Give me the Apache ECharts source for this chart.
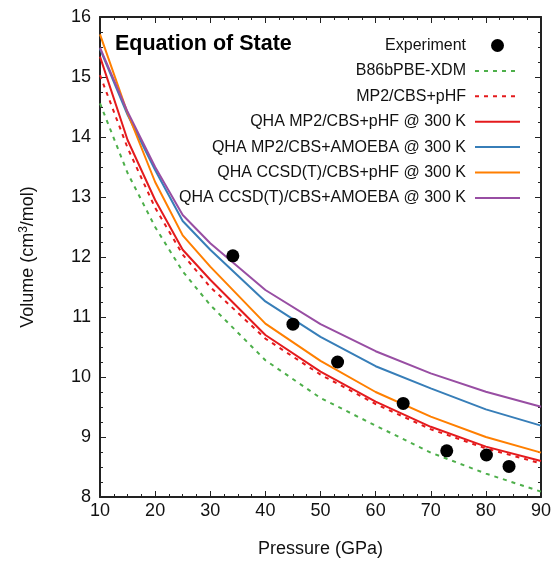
<!DOCTYPE html>
<html>
<head>
<meta charset="utf-8">
<script src="https://cdn.jsdelivr.net/npm/echarts@6/dist/echarts.min.js"></script>
<style>html,body{margin:0;padding:0;background:#fff;}#c{width:559px;height:562px;}</style>
</head>
<body>
<div id="c"></div>
<script>
const pressures = [10, 15, 20, 25, 30, 40, 50, 60, 70, 80, 90];
const expP = [34.1, 45.0, 53.1, 65.0, 72.9, 80.1, 84.2];
const expV = [12.02, 10.88, 10.25, 9.56, 8.77, 8.70, 8.51];
const b86V = [14.56, 13.40, 12.50, 11.76, 11.20, 10.28, 9.65, 9.19, 8.74, 8.39, 8.09];
const mp2V = [15.03, 13.82, 12.82, 12.04, 11.50, 10.64, 10.04, 9.55, 9.13, 8.81, 8.56];
const qhaMp2PhfV = [15.34, 13.95, 12.95, 12.12, 11.62, 10.70, 10.09, 9.59, 9.17, 8.84, 8.60];
const qhaMp2AmoebaV = [15.47, 14.37, 13.45, 12.60, 12.12, 11.26, 10.67, 10.18, 9.81, 9.46, 9.19];
const qhaCcsdPhfV = [15.71, 14.40, 13.25, 12.36, 11.84, 10.89, 10.27, 9.75, 9.34, 9.00, 8.74];
const qhaCcsdAmoebaV = [15.49, 14.42, 13.50, 12.70, 12.23, 11.45, 10.88, 10.43, 10.06, 9.755, 9.505];
const xTicks = [10, 20, 30, 40, 50, 60, 70, 80, 90];
const yTicks = [8, 9, 10, 11, 12, 13, 14, 15, 16];

const names = ['Experiment', 'B86bPBE-XDM', 'MP2/CBS+pHF', 'QHA MP2/CBS+pHF @ 300 K',
  'QHA MP2/CBS+AMOEBA @ 300 K', 'QHA CCSD(T)/CBS+pHF @ 300 K', 'QHA CCSD(T)/CBS+AMOEBA @ 300 K'];

function pairs(xs, ys) { return xs.map((x, i) => [x, ys[i]]); }

const font = 'Liberation Sans, Arial, Helvetica, sans-serif';
const axisColor = '#222';

function lineSeries(name, vals, color, dashed) {
  return {
    name: name, type: 'line', data: pairs(pressures, vals),
    showSymbol: false, symbol: 'none', smooth: false,
    lineStyle: { color: color, width: 2, type: dashed ? [4, 5] : 'solid' },
    itemStyle: { color: color },
    emphasis: { disabled: true }, animation: false, z: 3
  };
}

const chart = echarts.init(document.getElementById('c'));
const xBase = {
  type: 'value', min: xTicks[0], max: xTicks[xTicks.length - 1], interval: 10,
  splitLine: { show: false },
  axisLine: { show: true, onZero: false, lineStyle: { color: axisColor, width: 2 } },
  axisTick: { show: true, inside: true, length: 6, lineStyle: { color: axisColor, width: 1 } },
  minorTick: { show: true, splitNumber: 4, length: 3, lineStyle: { color: axisColor, width: 1 } }
};
const yBase = {
  type: 'value', min: yTicks[0], max: yTicks[yTicks.length - 1], interval: 1,
  splitLine: { show: false },
  axisLine: { show: true, onZero: false, lineStyle: { color: axisColor, width: 2 } },
  axisTick: { show: true, inside: true, length: 6, lineStyle: { color: axisColor, width: 1 } },
  minorTick: { show: true, splitNumber: 4, length: 3, lineStyle: { color: axisColor, width: 1 } }
};

const legendData = names.map((n, i) => i === 0 ? { name: n } : { name: n, itemStyle: { opacity: 0 } });

chart.setOption({
  animation: false,
  backgroundColor: '#fff',
  grid: { left: 100, right: 18, top: 17, bottom: 65, containLabel: false, outerBoundsMode: 'none' },
  title: {
    text: 'Equation of State', left: 110, top: 28,
    textStyle: { fontFamily: font, fontSize: 21.5, fontWeight: 'bold', color: '#000' }
  },
  legend: {
    orient: 'vertical', right: 38, top: 37.5, padding: 0,
    align: 'right', itemWidth: 45, itemHeight: 13, itemGap: 9.4,
    data: legendData,
    textStyle: { fontFamily: font, fontSize: 16, color: '#111', padding: [0, 4, 0, 0] },
    selectedMode: false
  },
  xAxis: [
    Object.assign({}, xBase, {
      position: 'bottom',
      name: 'Pressure (GPa)', nameLocation: 'middle', nameGap: 43,
      nameTextStyle: { fontFamily: font, fontSize: 18, color: '#111' },
      axisLabel: { show: true, margin: 5, fontFamily: font, fontSize: 18, color: '#111' }
    }),
    Object.assign({}, xBase, { position: 'top', axisLabel: { show: false } })
  ],
  yAxis: [
    Object.assign({}, yBase, {
      position: 'left',
      name: 'Volume (cm{sup|3}/mol)', nameLocation: 'middle', nameGap: 62,
      nameTextStyle: {
        fontFamily: font, fontSize: 18, color: '#111', lineHeight: 20,
        rich: { sup: { fontFamily: font, fontSize: 12, color: '#111', verticalAlign: 'top', lineHeight: 20, padding: [0, 0, 6, 0] } }
      },
      axisLabel: { show: true, margin: 9, fontFamily: font, fontSize: 18, color: '#111' }
    }),
    Object.assign({}, yBase, { position: 'right', axisLabel: { show: false } })
  ],
  series: [
    {
      name: names[0], type: 'scatter', data: pairs(expP, expV),
      symbol: 'circle', symbolSize: 13, itemStyle: { color: '#000', opacity: 1 },
      emphasis: { disabled: true }, z: 5
    },
    lineSeries(names[1], b86V, '#4daf4a', true),
    lineSeries(names[2], mp2V, '#e41a1c', true),
    lineSeries(names[3], qhaMp2PhfV, '#e41a1c', false),
    lineSeries(names[4], qhaMp2AmoebaV, '#377eb8', false),
    lineSeries(names[5], qhaCcsdPhfV, '#ff7f00', false),
    lineSeries(names[6], qhaCcsdAmoebaV, '#984ea3', false)
  ]
});
</script>
</body>
</html>
